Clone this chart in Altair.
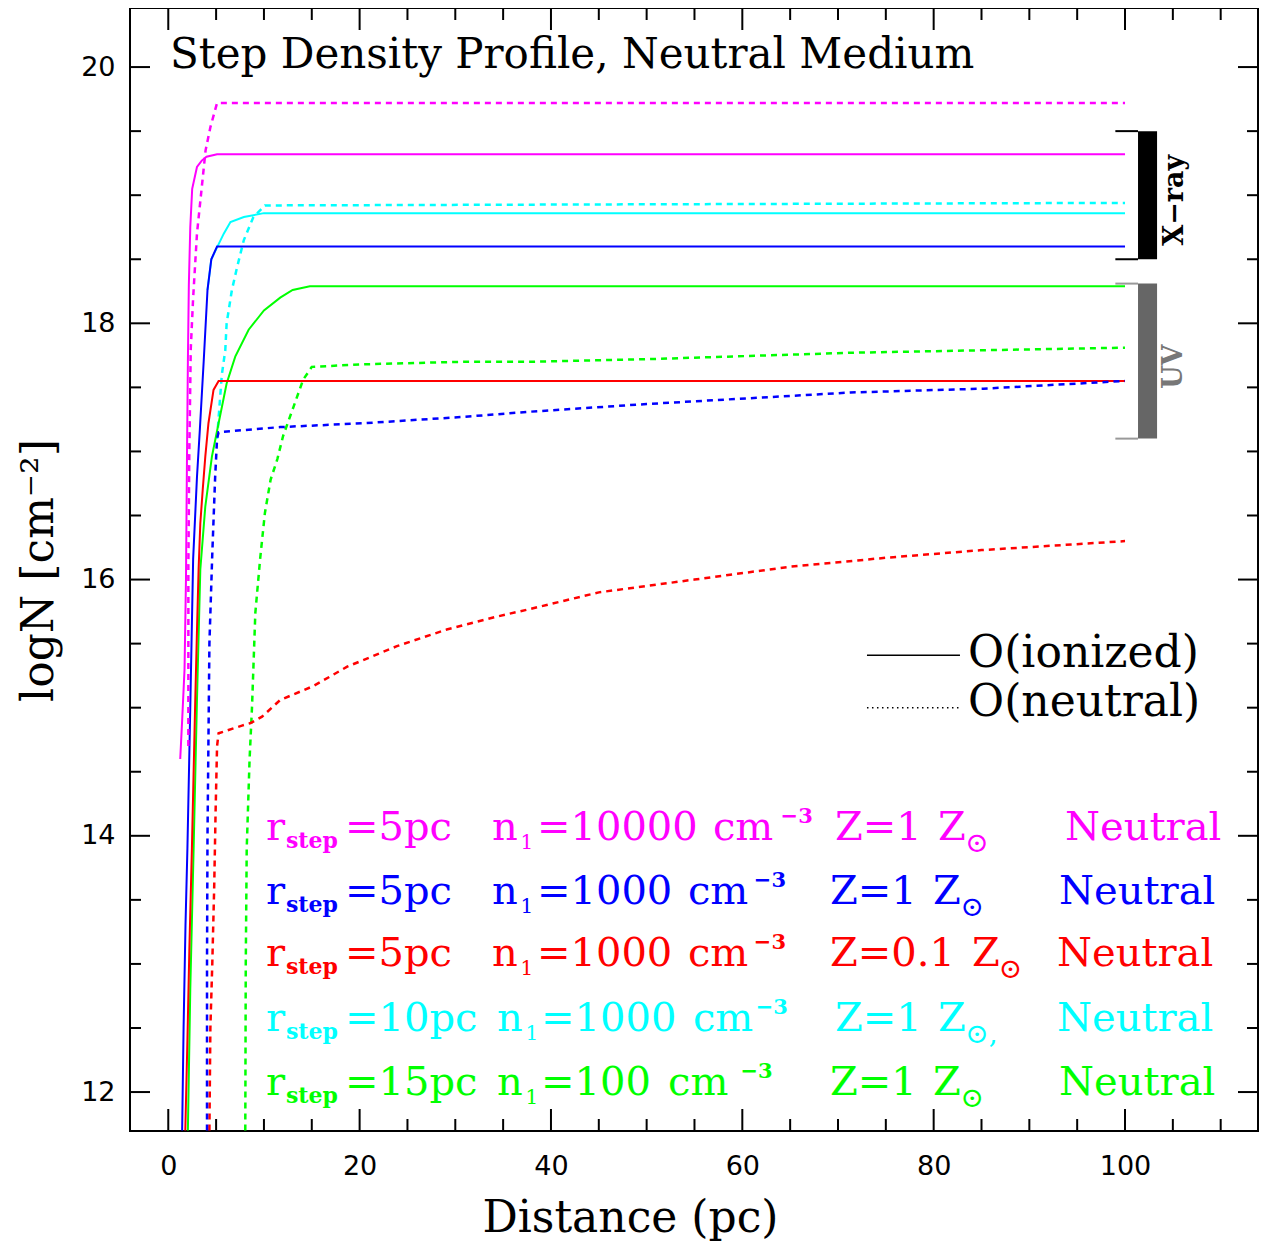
import altair as alt
import pandas as pd

# ---------------- data ----------------
COLORS = {"m": "#ff00ff", "b": "#0000ff", "r": "#ff0000", "c": "#00ffff", "g": "#00ff00"}

M_ION_X = [1.25, 1.45, 1.7, 1.85, 1.95, 2.05, 2.15, 2.3, 2.5, 3.0, 3.5, 4.0, 5.1, 100]
M_ION_Y = [14.6, 14.9, 15.3, 16.0, 16.9, 17.7, 18.3, 18.75, 19.05, 19.22, 19.27, 19.3, 19.32, 19.32]
M_NEU_X = [2.1, 2.1, 2.2, 2.35, 2.6, 3.0, 3.9, 4.4, 5.1, 100]
M_NEU_Y = [14.7, 16.1, 17.0, 17.8, 18.2, 18.7, 19.35, 19.53, 19.72, 19.72]

B_ION_X = [1.45, 1.6, 1.8, 2.0, 2.3, 2.6, 3.0, 3.3, 3.7, 4.1, 4.5, 5.1, 100]
B_ION_Y = [11.7, 12.5, 13.3, 13.9, 15.0, 16.16, 16.8, 17.17, 17.7, 18.26, 18.5, 18.6, 18.6]
B_NEU_X = [4.05, 4.05, 4.1, 4.3, 4.6, 4.9, 5.1, 5.26, 11.7, 20.4, 30.9, 37.8, 50, 71.3, 85.2, 100]
B_NEU_Y = [11.7, 13.0, 14.0, 15.5, 16.2, 16.8, 17.1, 17.15, 17.19, 17.22, 17.27, 17.31, 17.37, 17.46, 17.49, 17.55]

R_ION_X = [1.78, 2.0, 2.2, 2.47, 2.65, 2.82, 3.0, 3.17, 3.35, 3.6, 3.87, 4.2, 4.73, 5.26, 100]
R_ION_Y = [11.7, 12.4, 13.1, 13.9, 14.5, 15.06, 15.6, 16.08, 16.44, 16.7, 16.96, 17.22, 17.48, 17.55, 17.55]
R_NEU_X = [4.3, 4.4, 4.6, 4.8, 4.95, 5.1, 5.26, 7.7, 8.6, 9.8, 11.7, 15.2, 18.7, 23.9, 29.1, 34.3, 37.8,
           45, 55, 65, 75, 85, 100]
R_NEU_Y = [11.7, 12.5, 13.0, 13.6, 14.2, 14.7, 14.8, 14.86, 14.88, 14.93, 15.06, 15.17, 15.32, 15.48,
           15.61, 15.71, 15.77, 15.9, 16.0, 16.1, 16.17, 16.23, 16.3]

C_ION_X = [4.1, 4.5, 5.15, 5.8, 6.5, 7.9, 10.0, 100]
C_ION_Y = [18.26, 18.5, 18.6, 18.7, 18.79, 18.83, 18.86, 18.86]
C_NEU_X = [5.1, 5.4, 5.6, 5.96, 6.1, 6.65, 7.2, 7.9, 8.9, 10.1, 100]
C_NEU_Y = [17.1, 17.4, 17.6, 17.79, 18.0, 18.26, 18.44, 18.65, 18.83, 18.92, 18.94]

G_ION_X = [2.05, 2.3, 2.65, 3.0, 3.35, 3.87, 4.56, 5.26, 6.1, 7.0, 8.4, 10.0, 11.7, 13.0, 14.8, 100]
G_ION_Y = [11.7, 12.8, 13.9, 15.06, 16.08, 16.57, 16.96, 17.22, 17.53, 17.74, 17.95, 18.1, 18.2, 18.26,
           18.29, 18.29]
G_NEU_X = [8.05, 8.1, 8.2, 8.5, 8.75, 9.1, 9.6, 10.1, 10.7, 11.4, 12.0, 13.1, 14.1, 15.0, 20.4, 30.9,
           37.8, 50, 71.3, 85.2, 100]
G_NEU_Y = [11.7, 13.0, 13.9, 14.6, 15.0, 15.74, 16.16, 16.52, 16.78, 16.94, 17.12, 17.35, 17.56, 17.66,
           17.68, 17.70, 17.70, 17.72, 17.77, 17.79, 17.81]

# band markers (logN ranges)
XRAY_RANGE = [18.5, 19.5]
UV_RANGE = [17.1, 18.31]

# axis ticks / labels
XTICKS = list(range(0, 111, 5))
YTICKS = [12 + 0.5 * i for i in range(17)]
XLABELS = [0, 20, 40, 60, 80, 100]
YLABELS = [12, 14, 16, 18, 20]

TITLE = "Step Density Profile, Neutral Medium"

# annotation rows
ROW_COLOR = ["#ff00ff", "#0000ff", "#ff0000", "#00ffff", "#00ff00"]
ROW_MAIN = [
    ["r", "=5pc", "n", "=10000", "cm", "Z=1", "Z", "Neutral"],
    ["r", "=5pc", "n", "=1000", "cm", "Z=1", "Z", "Neutral"],
    ["r", "=5pc", "n", "=1000", "cm", "Z=0.1", "Z", "Neutral"],
    ["r", "=10pc", "n", "=1000", "cm", "Z=1", "Z", "Neutral"],
    ["r", "=15pc", "n", "=100", "cm", "Z=1", "Z", "Neutral"],
]
ROW_SUN = ["⊙", "⊙", "⊙", "⊙,", "⊙"]

# ---------------- layout (data units) ----------------
XMIN, XMAX = -4.0, 113.9
YMIN, YMAX = 11.696, 20.461
W, H = 1128, 1123
PX_X = W / (XMAX - XMIN)
PX_Y = H / (YMAX - YMIN)

ROW_Y = [13.97, 13.47, 12.98, 12.48, 11.98]
ROW_MAIN_X = [
    [10.21, 18.47, 33.83, 38.54, 56.93, 69.69, 80.45, 93.73],
    [10.21, 18.47, 33.83, 38.54, 54.32, 69.17, 79.93, 93.10],
    [10.21, 18.47, 33.83, 38.54, 54.32, 69.17, 84.00, 92.89],
    [10.21, 18.47, 34.36, 38.96, 54.84, 69.69, 80.45, 92.89],
    [10.21, 18.47, 34.36, 38.96, 52.23, 69.17, 79.93, 93.10],
]
ROW_STEP_X = [12.30] * 5
ROW_ONE_X = [36.82, 36.82, 36.82, 37.35, 37.35]
ROW_SUP_X = [64.0, 61.2, 61.2, 61.4, 59.8]
ROW_SUN_X = [83.3, 82.8, 86.8, 83.3, 82.8]

SERIF = "DejaVu Serif"
SANS = "DejaVu Sans"

xs = alt.Scale(domain=[XMIN, XMAX], nice=False, zero=False)
ys = alt.Scale(domain=[YMIN, YMAX], nice=False, zero=False)

AXX = alt.Axis(
    values=XLABELS, ticks=False, domain=False, grid=False, format="d",
    labelFont=SANS, labelFontSize=27, labelColor="black", labelPadding=22,
    title="Distance (pc)", titleFont=SERIF, titleFontSize=44, titleFontWeight="normal",
    titleColor="black", titleX=500, titleY=100, titleAlign="center", titleBaseline="alphabetic")
AXY = alt.Axis(
    values=YLABELS, ticks=False, domain=False, grid=False, format="d",
    labelFont=SANS, labelFontSize=27, labelColor="black", labelPadding=15,
    title="logN [cm⁻²]", titleFont=SERIF, titleFontSize=44, titleFontWeight="normal",
    titleColor="black", titleX=-78, titleY=562, titleAngle=270, titleAlign="center",
    titleBaseline="alphabetic")


def XN(f="x"):
    return alt.X(f"{f}:Q", scale=xs, axis=AXX)


def YN(f="y"):
    return alt.Y(f"{f}:Q", scale=ys, axis=AXY)


# ---------------- ticks (inward, PGPLOT style) ----------------
tick_rows = []
for v in XTICKS:
    L = 22 if v % 20 == 0 else 12
    tick_rows.append(dict(x=v, x2=v, y=YMIN, y2=YMIN + L / PX_Y))
    tick_rows.append(dict(x=v, x2=v, y=YMAX - L / PX_Y, y2=YMAX))
for v in YTICKS:
    L = 20 if v % 2 == 0 else 11
    tick_rows.append(dict(x=XMIN, x2=XMIN + L / PX_X, y=v, y2=v))
    tick_rows.append(dict(x=XMAX - L / PX_X, x2=XMAX, y=v, y2=v))
ticks = alt.Chart(pd.DataFrame(tick_rows)).mark_rule(color="black", strokeWidth=2).encode(
    x=XN(), x2="x2:Q", y=YN(), y2="y2:Q")

# ---------------- curves ----------------
line_specs = [
    ("c", "ion", C_ION_X, C_ION_Y), ("c", "neu", C_NEU_X, C_NEU_Y),
    ("g", "ion", G_ION_X, G_ION_Y), ("g", "neu", G_NEU_X, G_NEU_Y),
    ("r", "ion", R_ION_X, R_ION_Y), ("r", "neu", R_NEU_X, R_NEU_Y),
    ("b", "ion", B_ION_X, B_ION_Y), ("b", "neu", B_NEU_X, B_NEU_Y),
    ("m", "ion", M_ION_X, M_ION_Y), ("m", "neu", M_NEU_X, M_NEU_Y),
]
line_layers = []
for s, st, X, Y in line_specs:
    d = pd.DataFrame({"x": X, "y": Y, "i": list(range(len(X)))})
    if st == "ion":
        mk = alt.Chart(d).mark_line(color=COLORS[s], strokeWidth=2, clip=True)
    else:
        mk = alt.Chart(d).mark_line(color=COLORS[s], strokeWidth=2.5, strokeDash=[6, 5], clip=True)
    line_layers.append(mk.encode(x=XN(), y=YN(), order="i:Q"))

# ---------------- X-ray / UV bands ----------------
bands = pd.DataFrame({
    "y": [XRAY_RANGE[0], UV_RANGE[0]], "y2": [XRAY_RANGE[1], UV_RANGE[1]],
    "c": ["black", "#666666"],
    "x": [101.36, 101.36], "x2": [103.35, 103.35],
})
band_rect = alt.Chart(bands).mark_rect().encode(
    x=XN(), x2="x2:Q", y=YN(), y2="y2:Q", color=alt.Color("c:N", scale=None))
brk = pd.DataFrame({
    "y": [XRAY_RANGE[0], XRAY_RANGE[1], UV_RANGE[0], UV_RANGE[1]],
    "c": ["black", "black", "#999999", "#999999"],
    "x": [98.99] * 4, "x2": [101.36] * 4,
})
band_brk = alt.Chart(brk).mark_rule(strokeWidth=2).encode(
    x=XN(), x2="x2:Q", y=YN(), color=alt.Color("c:N", scale=None))
band_txt = alt.Chart(pd.DataFrame({
    "t": ["X−ray", "UV"], "x": [105.23, 105.07],
    "y": [18.96, 17.66], "c": ["black", "#777777"],
})).mark_text(font=SERIF, fontSize=27, fontWeight="bold", angle=270, align="center",
              baseline="middle").encode(x=XN(), y=YN(), text="t:N", color=alt.Color("c:N", scale=None))

# ---------------- legend (line styles) ----------------
leg_solid = alt.Chart(pd.DataFrame({"x": [73.03], "x2": [82.75], "y": [15.41]})).mark_rule(
    color="black", strokeWidth=1.5).encode(x=XN(), x2="x2:Q", y=YN())
leg_dot = alt.Chart(pd.DataFrame({"x": [73.03], "x2": [82.75], "y": [15.0]})).mark_rule(
    color="black", strokeWidth=1.5, strokeDash=[1.5, 3.5]).encode(x=XN(), x2="x2:Q", y=YN())
leg_txt = alt.Chart(pd.DataFrame({
    "t": ["O(ionized)", "O(neutral)"], "x": [83.6, 83.6], "y": [15.317, 14.935]})).mark_text(
    font=SERIF, fontSize=44, align="left", baseline="alphabetic", color="black").encode(
    x=XN(), y=YN(), text="t:N")

# ---------------- title ----------------
title_txt = alt.Chart(pd.DataFrame({"t": [TITLE], "x": [0.18], "y": [19.99]})).mark_text(
    font=SERIF, fontSize=42, align="left", baseline="alphabetic", color="black").encode(
    x=XN(), y=YN(), text="t:N")

# ---------------- annotation rows ----------------
main_rows, step_rows, one_rows, sup_rows, sun_rows = [], [], [], [], []
for k in range(5):
    for t, xv in zip(ROW_MAIN[k], ROW_MAIN_X[k]):
        main_rows.append(dict(t=t, x=xv, y=ROW_Y[k], c=ROW_COLOR[k]))
    step_rows.append(dict(t="step", x=ROW_STEP_X[k], y=ROW_Y[k], c=ROW_COLOR[k]))
    one_rows.append(dict(t="1", x=ROW_ONE_X[k], y=ROW_Y[k], c=ROW_COLOR[k]))
    sup_rows.append(dict(t="−3", x=ROW_SUP_X[k], y=ROW_Y[k], c=ROW_COLOR[k]))
    sun_rows.append(dict(t=ROW_SUN[k], x=ROW_SUN_X[k], y=ROW_Y[k], c=ROW_COLOR[k]))


def tlayer(rows, size, weight="normal", dy=0):
    return alt.Chart(pd.DataFrame(rows)).mark_text(
        font=SERIF, fontSize=size, fontWeight=weight, align="left", baseline="alphabetic", dy=dy
    ).encode(x=XN(), y=YN(), text="t:N", color=alt.Color("c:N", scale=None))


ann = [
    tlayer(main_rows, 40),
    tlayer(step_rows, 22, "bold", 8),
    tlayer(one_rows, 20, "normal", 9),
    tlayer(sup_rows, 21, "bold", -17),
    tlayer(sun_rows, 28, "normal", 12),
]

chart = alt.layer(
    ticks, *line_layers, band_rect, band_brk, band_txt, leg_solid, leg_dot, leg_txt, title_txt, *ann
).properties(
    width=W, height=H,
    autosize=alt.AutoSizeParams(type="none"),
    padding={"left": 122, "top": 0, "right": 4, "bottom": 112},
    background="white",
).configure_view(stroke="black", strokeWidth=2)

chart.save("out.html", embed_options={"renderer": "svg", "actions": False})
